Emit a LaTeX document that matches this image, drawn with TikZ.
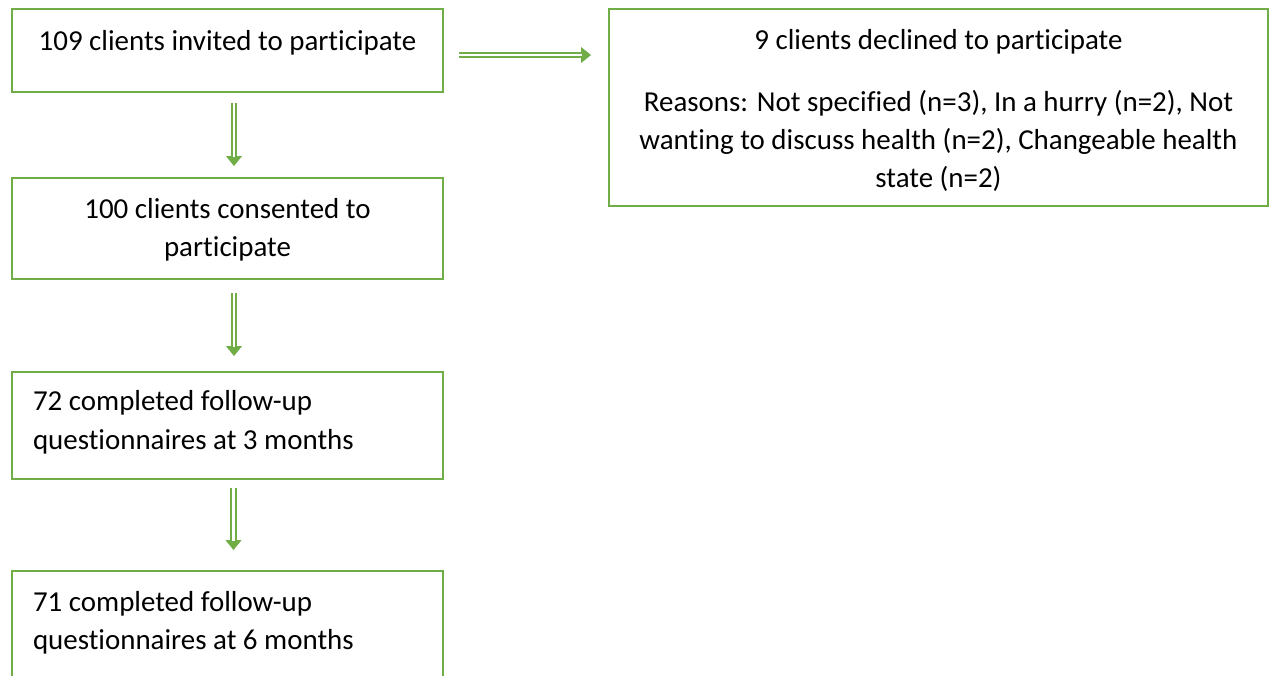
\documentclass[tikz,border=0pt]{standalone}
\usepackage{fontspec}
\setmainfont{Carlito}[Ligatures=NoCommon]
\usetikzlibrary{arrows.meta,calc}
\definecolor{grn}{HTML}{70AD47}
\begin{document}
\begin{tikzpicture}[x=0.75pt,y=-0.75pt,
  box/.style={draw=grn, line width=1.9pt, inner sep=0pt, outer sep=0pt, fill=white},
  txt/.style={inner sep=0pt, outer sep=0pt, font=\fontsize{21.7pt}{28.5pt}\selectfont},
  conn/.style={draw=grn, line width=0.6pt, -{Triangle[length=7.5pt,width=12pt]},
    postaction={draw=grn, -, line width=1.3pt, double=white, double distance=2.2pt,
      shorten >=7pt}}]
\useasboundingbox (0,0) rectangle (1270,675);
\clip (0,0) rectangle (1270,675);
% boxes
\node[box, minimum width=323.25pt, minimum height=62.25pt] (b1) at (227.5,50.5) {};
\node[box, minimum width=494.25pt, minimum height=147.75pt] (b2) at (938.5,107.5) {};
\node[box, minimum width=323.25pt, minimum height=75.75pt] (b3) at (227.5,228.5) {};
\node[box, minimum width=323.25pt, minimum height=80.25pt] (b4) at (227.5,425.5) {};
\node[box, minimum width=323.25pt, minimum height=82.5pt] (b5) at (227.5,626) {};
% texts
\node[txt, anchor=base] (t1) at (227.5,50) {109 clients invited to participate};
\node[txt, anchor=base] (t2a) at (938.5,49.5) {9 clients declined to participate};
\node[txt, anchor=base] (t2b) at (938.5,111.5) {Reasons: Not specified (n=3), In a hurry (n=2), Not};
\node[txt, anchor=base] (t2c) at (938.5,149.5) {wanting to discuss health (n=2), Changeable health};
\node[txt, anchor=base] (t2d) at (938.5,187.5) {state (n=2)};
\node[txt, anchor=base] (t3a) at (227.5,218) {100 clients consented to};
\node[txt, anchor=base] (t3b) at (227.5,256) {participate};
\node[txt, anchor=base west] (t4a) at (33,410.5) {72 completed follow-up};
\node[txt, anchor=base west] (t4b) at (33,449) {questionnaires at 3 months};
\node[txt, anchor=base west] (t5a) at (33,611) {71 completed follow-up};
\node[txt, anchor=base west] (t5b) at (33,649) {questionnaires at 6 months};
% connectors
\draw[conn] ($(b1.east)+(16,4.5)$) -- ($(b1.east -| b2.west)+(-18,4.5)$);
\draw[conn] ($(b1.south)+(6.5,11)$) -- ($(b3.north)+(6.5,-12)$);
\draw[conn] ($(b3.south)+(6.5,14)$) -- ($(b4.north)+(6.5,-16)$);
\draw[conn] ($(b4.south)+(6,9)$) -- ($(b5.north)+(6,-21)$);
\end{tikzpicture}
\end{document}
